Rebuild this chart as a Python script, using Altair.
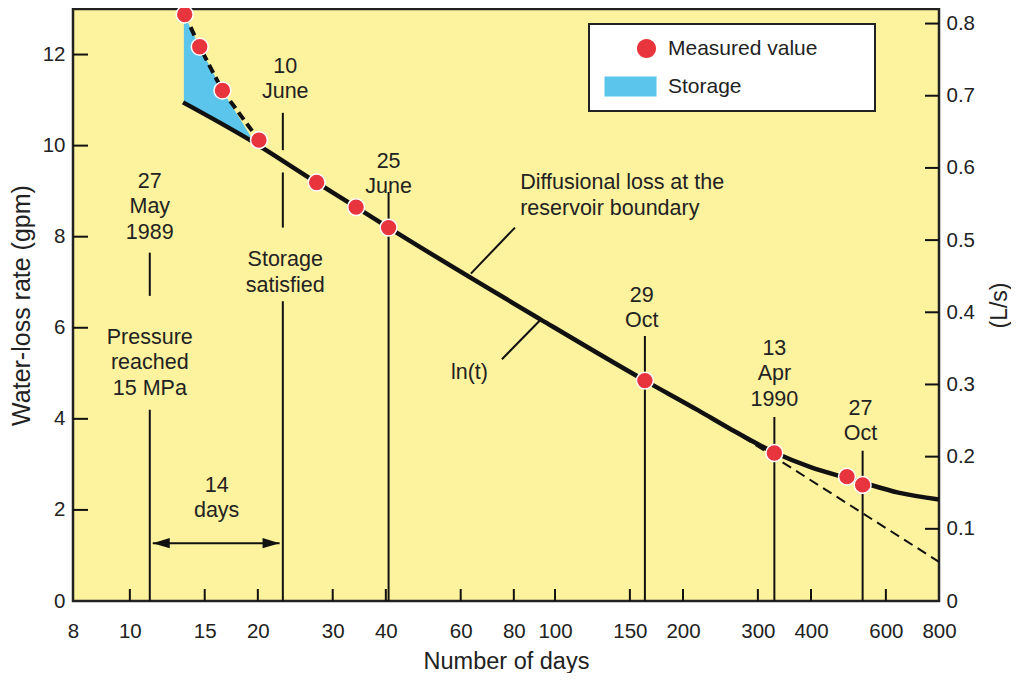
import altair as alt
import pandas as pd

# ---------------- data ----------------
# measured water-loss rates (days since start, gpm)
meas_day = [13.46, 14.6, 16.51, 20.12, 27.5, 34.05, 40.6, 162.7, 328, 486, 529]
meas_rate = [12.88, 12.17, 11.21, 10.12, 9.19, 8.65, 8.20, 4.84, 3.25, 2.73, 2.55]

# solid trend curve
curve_day = [13.34, 19.1, 27.5, 34.05, 40.6, 92.6, 162.7, 217.8, 256, 328, 399, 486, 529, 642, 800]
curve_rate = [10.95, 10.13, 9.19, 8.65, 8.20, 6.18, 4.84, 4.18, 3.80, 3.26, 2.94, 2.70, 2.60, 2.38, 2.23]

# dashed ln(t) extrapolation
ext_day = [256, 800]
ext_rate = [3.80, 0.86]

# storage wedge (upper dashed boundary and lower solid boundary)
st_day = [13.4, 14.6, 16.5, 19.4]
st_top = [12.88, 12.17, 11.21, 10.15]
st_bot = [10.95, 10.74, 10.46, 10.15]
st_line_day = [13.46, 14.6, 16.51, 20.12]
st_line_rate = [12.88, 12.17, 11.21, 10.12]

# vertical date markers (segments)
vl_day = [11.14, 11.14, 22.9, 22.9, 22.9, 40.6, 162.7, 328, 529]
vl_lo = [6.70, 0, 9.90, 8.20, 0, 0, 0, 0, 0]
vl_hi = [7.65, 4.20, 10.72, 9.41, 6.58, 8.98, 5.82, 4.04, 3.30]

# centred annotation texts
txt_label = ["27\nMay\n1989", "Pressure\nreached\n15 MPa", "10\nJune", "Storage\nsatisfied",
             "25\nJune", "29\nOct", "13\nApr\n1990", "27\nOct", "14\ndays", "ln(t)"]
txt_day = [11.14, 11.14, 23.2, 23.2, 40.6, 160, 328, 523, 16.0, 62.9]
txt_rate = [9.21, 5.78, 11.73, 7.48, 9.65, 6.70, 5.54, 4.22, 2.53, 5.0]

# left-aligned annotation
diff_label = ["Diffusional loss at the\nreservoir boundary"]
diff_day = [82.8]
diff_rate = [9.19]

# leader lines
ld_x1 = [63.4, 92.6]
ld_y1 = [7.19, 6.18]
ld_x2 = [80.5, 75.0]
ld_y2 = [8.20, 5.31]

# 14-day double arrow
arrow_day = [11.32, 22.5]
arrow_end = ["left", "right"]
arrow_rate = [1.27, 1.27]

# axes
x_labels = [10, 15, 20, 30, 40, 60, 80, 100, 150, 200, 300, 400, 600, 800]
x_ticks = [10, 15, 20, 30, 40, 60, 80, 100, 150, 200, 300, 400, 600]
y_labels = [0, 2, 4, 6, 8, 10, 12]
y_ticks = [2, 4, 6, 8, 10, 12]
r_labels = [0, 0.1, 0.2, 0.3, 0.4, 0.5, 0.6, 0.7, 0.8]
r_ticks = [0.1, 0.2, 0.3, 0.4, 0.5, 0.6, 0.7, 0.8]

legend_labels = ["Measured value", "Storage"]

# ---------------- styling ----------------
W, H = 866, 592
X_MIN, X_MAX = 7.35, 800
Y_MAX = 13.0
LS_PER_GPM = 0.0630902
FONT = "Liberation Sans"
TXT = "#222222"
RED = "#E8343C"
BLUE = "#5BC5EC"
YELLOW = "#FDF29E"
INK = "#111111"
ANN = 21.5

xscale = alt.Scale(type="log", domain=[X_MIN, X_MAX], nice=False)
yscale = alt.Scale(domain=[0, Y_MAX], nice=False)
rscale = alt.Scale(domain=[0, Y_MAX * LS_PER_GPM], nice=False)

xaxis = alt.Axis(values=[X_MIN] + x_labels,
                 labelExpr="datum.value < 8 ? '8' : format(datum.value, 'd')",
                 title="Number of days", ticks=False, tickSize=0, domain=False, grid=False,
                 labelFontSize=20.5, labelPadding=20, labelFlush=False, labelOverlap=False,
                 labelFont=FONT, labelColor=TXT, titleFont=FONT, titleColor=TXT,
                 titleFontSize=23.5, titleFontWeight="normal", titlePadding=8)
yaxis = alt.Axis(values=y_labels, title="Water-loss rate (gpm)", ticks=False, tickSize=0,
                 domain=False, grid=False, labelFontSize=20.5, labelPadding=8,
                 labelFont=FONT, labelColor=TXT, titleFont=FONT, titleColor=TXT,
                 titleFontSize=25, titleFontWeight="normal", titlePadding=8)
raxis = alt.Axis(orient="right", values=r_labels,
                 labelExpr="datum.value == 0 ? '0' : format(datum.value, '.1f')",
                 title="(L/s)", titleAngle=270, ticks=False, tickSize=0, domain=False, grid=False,
                 labelFontSize=20.5, labelPadding=7, labelFont=FONT, labelColor=TXT,
                 titleFont=FONT, titleColor=TXT, titleFontSize=23, titleFontWeight="normal",
                 titlePadding=37)

def X(f="day"):
    return alt.X(f"{f}:Q", scale=xscale, axis=xaxis)

def Y(f="rate"):
    return alt.Y(f"{f}:Q", scale=yscale, axis=yaxis)

# ---------------- layers ----------------
area = alt.Chart(pd.DataFrame({"day": st_day, "top": st_top, "bot": st_bot})).mark_area(
    color=BLUE, opacity=1).encode(x=X(), y=Y("top"), y2="bot:Q")

vlines = alt.Chart(pd.DataFrame({"day": vl_day, "lo": vl_lo, "hi": vl_hi})).mark_rule(
    color=INK, strokeWidth=2).encode(x=X(), y=Y("lo"), y2="hi:Q")

leaders = alt.Chart(pd.DataFrame({"x1": ld_x1, "y1": ld_y1, "x2": ld_x2, "y2": ld_y2})).mark_rule(
    color=INK, strokeWidth=2).encode(x=X("x1"), y=Y("y1"), x2="x2:Q", y2="y2:Q")

st_line = alt.Chart(pd.DataFrame({"day": st_line_day, "rate": st_line_rate})).mark_line(
    color=INK, strokeWidth=4, strokeDash=[9, 5]).encode(x=X(), y=Y())

curve = alt.Chart(pd.DataFrame({"day": curve_day, "rate": curve_rate})).mark_line(
    color=INK, strokeWidth=4.5, interpolate="monotone").encode(x=X(), y=Y())

ext = alt.Chart(pd.DataFrame({"day": ext_day, "rate": ext_rate})).mark_line(
    color=INK, strokeWidth=2, strokeDash=[10, 6]).encode(x=X(), y=Y())

arrow_df = pd.DataFrame({"day": arrow_day, "rate": arrow_rate, "end": arrow_end})
arrow_shaft = alt.Chart(arrow_df).transform_pivot(
    "end", value="day", groupby=["rate"]).mark_rule(color=INK, strokeWidth=2).encode(
    x=X("left"), x2="right:Q", y=Y())
arrow_l = alt.Chart(arrow_df).transform_filter("datum.end == 'left'").mark_point(
    shape="M0,0L2,-0.6L2,0.6Z", filled=True, color=INK, opacity=1, size=289).encode(x=X(), y=Y())
arrow_r = alt.Chart(arrow_df).transform_filter("datum.end == 'right'").mark_point(
    shape="M0,0L-2,-0.6L-2,0.6Z", filled=True, color=INK, opacity=1, size=289).encode(x=X(), y=Y())

texts = alt.Chart(pd.DataFrame({"day": txt_day, "rate": txt_rate, "label": txt_label})).mark_text(
    font=FONT, fontSize=ANN, color=TXT, lineBreak="\n", lineHeight=25.5,
    align="center", baseline="middle").encode(x=X(), y=Y(), text="label:N")

diff_text = alt.Chart(pd.DataFrame({"day": diff_day, "rate": diff_rate, "label": diff_label})).mark_text(
    font=FONT, fontSize=ANN, color=TXT, lineBreak="\n", lineHeight=26.5,
    align="left", baseline="middle").encode(x=X(), y=Y(), text="label:N")

points = alt.Chart(pd.DataFrame({"day": meas_day, "rate": meas_rate})).mark_circle(
    color=RED, opacity=1, size=285, stroke="white", strokeWidth=1.5).encode(x=X(), y=Y())

# legend (built from an empty layer so only the legend is drawn)
RECT_PATH = "M-1.04,-1.15L4.97,-1.15L4.97,1.15L-1.04,1.15Z"
DOT_PATH = "M2.71,0A1.1,1.1,0,1,1,4.91,0A1.1,1.1,0,1,1,2.71,0Z"
leg = alt.Legend(title=" ", titleOrient="right", titlePadding=44, titleFontSize=10,
                 orient="none", legendX=516, legendY=15, padding=14,
                 fillColor="white", strokeColor=TXT, labelFontSize=21, labelFont=FONT,
                 labelColor=TXT, symbolSize=300, symbolStrokeWidth=0, symbolOpacity=1,
                 labelOffset=44, rowPadding=16)
legend_layer = alt.Chart(pd.DataFrame({"series": legend_labels, "day": [100, 100], "rate": [5, 5]})).transform_filter(
    "false").mark_point(filled=True, opacity=1).encode(
    x=X(), y=Y(),
    color=alt.Color("series:N", scale=alt.Scale(domain=legend_labels, range=[RED, BLUE]), legend=leg),
    shape=alt.Shape("series:N", scale=alt.Scale(domain=legend_labels, range=[DOT_PATH, RECT_PATH]), legend=leg))

# inward tick marks
lticks = alt.Chart(pd.DataFrame({"v": y_ticks})).mark_rule(color=INK, strokeWidth=2).encode(
    y=Y("v"), x=alt.value(0), x2=alt.value(15))
bticks = alt.Chart(pd.DataFrame({"v": x_ticks})).mark_rule(color=INK, strokeWidth=2).encode(
    x=X("v"), y=alt.value(H), y2=alt.value(H - 12))

left_group = alt.layer(area, vlines, leaders, st_line, curve, ext, arrow_shaft, arrow_l, arrow_r,
                       texts, diff_text, points, legend_layer, lticks, bticks)

rticks = alt.Chart(pd.DataFrame({"v": r_ticks})).mark_rule(color=INK, strokeWidth=2).encode(
    y=alt.Y("v:Q", scale=rscale, axis=raxis), x=alt.value(W - 14), x2=alt.value(W))

chart = alt.layer(left_group, rticks).resolve_scale(y="independent").properties(
    width=W, height=H,
    padding={"left": 65, "top": 1, "right": 72, "bottom": 72},
    autosize=alt.AutoSizeParams(type="none"),
).configure_view(fill=YELLOW, stroke="#222222", strokeWidth=2.5
).configure_legend(strokeWidth=2)

chart.save("out.html", embed_options={"renderer": "svg", "actions": False})
